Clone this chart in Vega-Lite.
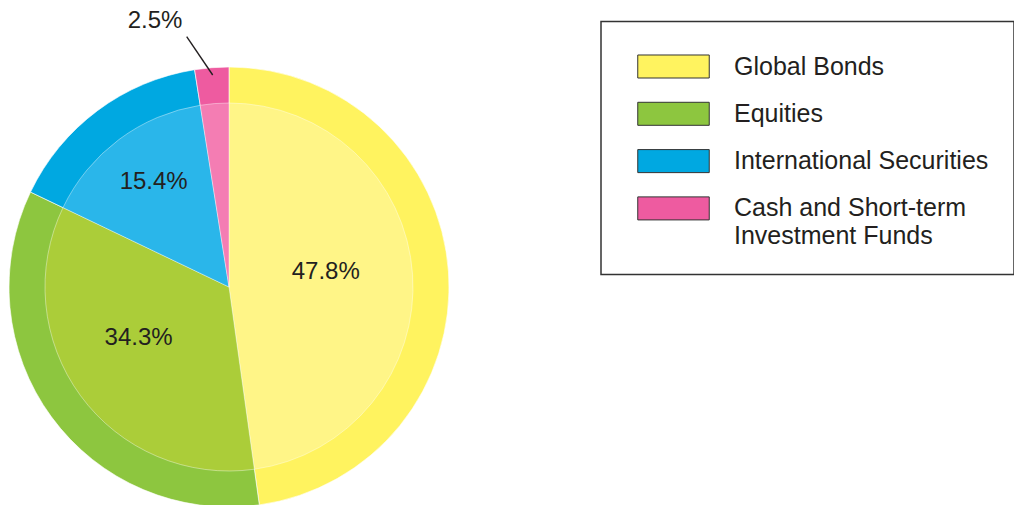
{
  "$schema": "https://vega.github.io/schema/vega-lite/v6.json",
  "width": 458,
  "height": 436,
  "autosize": {"type": "none"},
  "padding": {"left": 0, "top": 69, "right": 556, "bottom": 0},
  "background": "white",
  "config": {"view": {"stroke": null}, "font": "Liberation Sans"},
  "datasets": {
    "shares": [
      {"category": "Global Bonds", "share": 0.478, "rank": 1},
      {"category": "Equities", "share": 0.343, "rank": 2},
      {"category": "International Securities", "share": 0.154, "rank": 3},
      {"category": "Cash and Short-term Investment Funds", "share": 0.025, "rank": 4}
    ],
    "leader": [
      {"x": -0.0741, "y": 0.9636},
      {"x": -0.1923, "y": 1.1377}
    ]
  },
  "resolve": {"scale": {"color": "independent"}},
  "layer": [
    {
      "data": {"name": "shares"},
      "mark": {"type": "arc", "outerRadius": 220, "stroke": "#ffffff", "strokeWidth": 0.6},
      "encoding": {
        "theta": {"field": "share", "type": "quantitative", "stack": true},
        "order": {"field": "rank", "type": "quantitative"},
        "color": {
          "field": "category",
          "type": "nominal",
          "scale": {
            "domain": ["Global Bonds", "Equities", "International Securities", "Cash and Short-term Investment Funds"],
            "range": ["#FFF35F", "#8DC63F", "#00A8E1", "#EE5BA0"]
          },
          "legend": {
            "title": null,
            "orient": "none",
            "legendX": 601,
            "legendY": -47.5,
            "direction": "vertical",
            "padding": 25,
            "strokeColor": "#333333",
            "symbolType": "M-1,-0.322L1,-0.322L1,0.322L-1,0.322Z",
            "symbolSize": 5112,
            "symbolStrokeColor": "#333333",
            "symbolStrokeWidth": 1,
            "symbolOpacity": 1,
            "symbolOffset": 11,
            "clipHeight": 40,
            "rowPadding": 7.3,
            "labelFont": "Liberation Sans",
            "labelFontSize": 25,
            "labelColor": "#231F20",
            "labelOffset": 24,
            "labelLimit": 500,
            "labelExpr": "datum.label === 'Cash and Short-term Investment Funds' ? ['Cash and Short-term', 'Investment Funds'] : datum.label",
            "encode": {
              "legend": {"update": {"strokeWidth": {"value": 1.5}}},
              "labels": {"update": {"lineHeight": {"value": 28}}}
            }
          }
        }
      }
    },
    {
      "data": {"name": "shares"},
      "mark": {"type": "arc", "outerRadius": 184, "stroke": "#ffffff", "strokeWidth": 0.4},
      "encoding": {
        "theta": {"field": "share", "type": "quantitative", "stack": true},
        "order": {"field": "rank", "type": "quantitative"},
        "color": {
          "field": "category",
          "type": "nominal",
          "scale": {
            "domain": ["Global Bonds", "Equities", "International Securities", "Cash and Short-term Investment Funds"],
            "range": ["#FFF587", "#ABCD39", "#2AB6EA", "#F47DB3"]
          },
          "legend": null
        }
      }
    },
    {
      "data": {"name": "shares"},
      "mark": {"type": "text", "radius": 98, "dx": -1, "dy": -8.5, "font": "Liberation Sans", "fontSize": 24, "fill": "#231F20"},
      "encoding": {
        "theta": {"field": "share", "type": "quantitative", "stack": true},
        "order": {"field": "rank", "type": "quantitative"},
        "text": {"condition": {"test": "datum.category === 'Global Bonds'", "field": "share", "type": "quantitative", "format": ".1%"}, "value": ""}
      }
    },
    {
      "data": {"name": "shares"},
      "mark": {"type": "text", "radius": 112, "dy": -15, "font": "Liberation Sans", "fontSize": 24, "fill": "#231F20"},
      "encoding": {
        "theta": {"field": "share", "type": "quantitative", "stack": true},
        "order": {"field": "rank", "type": "quantitative"},
        "text": {"condition": {"test": "datum.category === 'Equities'", "field": "share", "type": "quantitative", "format": ".1%"}, "value": ""}
      }
    },
    {
      "data": {"name": "shares"},
      "mark": {"type": "text", "radius": 126, "dy": -4.5, "font": "Liberation Sans", "fontSize": 24, "fill": "#231F20"},
      "encoding": {
        "theta": {"field": "share", "type": "quantitative", "stack": true},
        "order": {"field": "rank", "type": "quantitative"},
        "text": {"condition": {"test": "datum.category === 'International Securities'", "field": "share", "type": "quantitative", "format": ".1%"}, "value": ""}
      }
    },
    {
      "data": {"name": "shares"},
      "mark": {"type": "text", "radius": 267, "dx": -53, "font": "Liberation Sans", "fontSize": 24, "fill": "#231F20"},
      "encoding": {
        "theta": {"field": "share", "type": "quantitative", "stack": true},
        "order": {"field": "rank", "type": "quantitative"},
        "text": {"condition": {"test": "datum.category === 'Cash and Short-term Investment Funds'", "field": "share", "type": "quantitative", "format": ".1%"}, "value": ""}
      }
    },
    {
      "data": {"name": "leader"},
      "mark": {"type": "line", "stroke": "#231F20", "strokeWidth": 1.4},
      "encoding": {
        "x": {"field": "x", "type": "quantitative", "scale": {"domain": [-1.0409, 1.0409], "nice": false, "zero": false}, "axis": null},
        "y": {"field": "y", "type": "quantitative", "scale": {"domain": [-0.9909, 0.9909], "nice": false, "zero": false}, "axis": null}
      }
    }
  ]
}
